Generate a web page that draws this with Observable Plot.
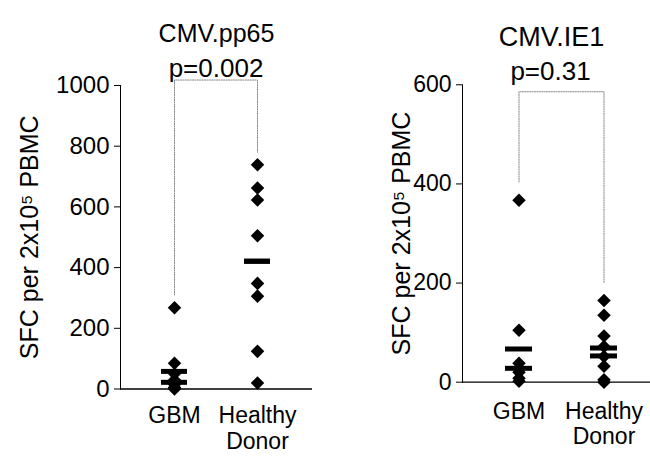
<!DOCTYPE html>
<html>
<head>
<meta charset="utf-8">
<script src="https://cdn.jsdelivr.net/npm/d3@7"></script>
<script src="https://cdn.jsdelivr.net/npm/@observablehq/plot@0.6"></script>
<style>
  html, body { margin: 0; padding: 0; background: #fff; }
  #wrap { position: relative; width: 650px; height: 468px; overflow: hidden; }
  .panel { position: absolute; top: 0; }
</style>
</head>
<body>
<div id="wrap">
  <div id="left" class="panel" style="left:0px"></div>
  <div id="right" class="panel" style="left:325px"></div>
</div>
<script>
// ---- data ----
const groups = ["GBM", "Healthy Donor"];
const yLabel = "SFC per 2x10\u2075 PBMC";

const pp65Title = "CMV.pp65";
const pp65P = "p=0.002";
const pp65Ticks = [0, 200, 400, 600, 800, 1000];
const pp65GBM = [268, 85, 50, 30, 15, 5, 0];
const pp65Healthy = [739, 662, 623, 505, 348, 306, 124, 20];
const pp65Mean = [58, 421];
const pp65Median = [22, 421];
const pp65Bracket = [310, 1018, 1018, 780]; // GBM low, top, top, Healthy low

const ie1Title = "CMV.IE1";
const ie1P = "p=0.31";
const ie1Ticks = [0, 200, 400, 600];
const ie1GBM = [367, 105, 38, 28, 20, 8, 2];
const ie1Healthy = [165, 135, 93, 72, 52, 32, 5, 0];
const ie1Mean = [67, 69];
const ie1Median = [28, 53];
const ie1Bracket = [404, 586, 586, 200];

const FONT = "'Liberation Sans', Arial, sans-serif";

function panel(opts) {
  const pts = [
    ...opts.gbm.map(v => ({g: groups[0], v})),
    ...opts.healthy.map(v => ({g: groups[1], v}))
  ];
  const summaries = [
    ...opts.mean.map((v, i) => ({g: groups[i], v})),
    ...opts.median.map((v, i) => ({g: groups[i], v}))
  ];
  const bracket = [
    {g: groups[0], v: opts.bracket[0]},
    {g: groups[0], v: opts.bracket[1]},
    {g: groups[1], v: opts.bracket[2]},
    {g: groups[1], v: opts.bracket[3]}
  ];
  const [c0, c1] = opts.centers;
  const step = c1 - c0, bw = opts.bw;
  const pi = 1 - bw / step;
  const r0 = c0 - bw / 2, r1 = r0 + step * (2 - pi);
  const svg = Plot.plot({
    width: 325,
    height: 468,
    marginLeft: opts.marginLeft,
    marginRight: opts.marginRight,
    marginTop: opts.marginTop,
    marginBottom: opts.marginBottom,
    style: {fontFamily: FONT, fontSize: opts.tickFont + "px", color: "#000", background: "#fff", overflow: "visible"},
    x: {type: "band", domain: groups, range: [r0, r1], paddingInner: pi, paddingOuter: 0, align: 0,
        tickSize: 0, tickPadding: opts.xPad,
        tickFormat: d => d === "Healthy Donor" ? "Healthy\nDonor" : d, label: null},
    y: {domain: opts.yDomain, ticks: opts.ticks, tickFormat: d3.format("d"), tickSize: 6, tickPadding: 5, line: true,
        label: yLabel, labelAnchor: "center", labelOffset: opts.labelOffset, labelArrow: "none"},
    marks: [
      Plot.ruleY([0], {stroke: "#000", strokeWidth: 1.3}),
      Plot.line(bracket, {x: "g", y: "v", stroke: "#888", strokeWidth: 1, strokeDasharray: "1.2,1.2"}),
      Plot.text([opts.p], {x: () => groups[0], y: () => opts.bracket[1], dx: step / 2 + opts.pdx, dy: opts.pdy, fontSize: opts.pFont, textAnchor: "middle"}),
      Plot.dot(pts, {x: "g", y: "v", symbol: "square", r: 5.4, rotate: 45, fill: "#000", stroke: "none"}),
      Plot.tickY(summaries, {x: "g", y: "v", stroke: "#000", strokeWidth: 5}),
      Plot.text([opts.title], {frameAnchor: "top", dx: opts.tdx, dy: opts.tdy, fontSize: opts.titleFont})
    ]
  });
  // font sizes of axis parts
  svg.querySelectorAll("[aria-label='x-axis tick label'] text, [aria-label='x-axis'] text").forEach(t => {
    t.setAttribute("font-size", opts.xFont);
    t.querySelectorAll("tspan").forEach((s, i) => { if (i > 0) s.setAttribute("dy", "1.1em"); });
  });
  svg.querySelectorAll("[aria-label='y-axis label'] text, [aria-label='y-axis label']").forEach(t => t.setAttribute("font-size", opts.labelFont));
  return svg;
}

document.getElementById("left").appendChild(panel({
  gbm: pp65GBM, healthy: pp65Healthy, mean: pp65Mean, median: pp65Median, bracket: pp65Bracket,
  p: pp65P, title: pp65Title, ticks: pp65Ticks, yDomain: [0, 1000],
  marginLeft: 120, marginRight: 13, marginTop: 85, marginBottom: 79.5,
  centers: [174, 257], bw: 26, labelOffset: 100, pdx: 0, pdy: -11, tdx: 0, tdy: -61,
  tickFont: 24, xFont: 23, labelFont: 25, pFont: 26, titleFont: 25, xPad: 18
}));

document.getElementById("right").appendChild(panel({
  gbm: ie1GBM, healthy: ie1Healthy, mean: ie1Mean, median: ie1Median, bracket: ie1Bracket,
  p: ie1P, title: ie1Title, ticks: ie1Ticks, yDomain: [0, 600],
  marginLeft: 137, marginRight: 0, marginTop: 84.3, marginBottom: 86.3,
  centers: [193.3, 278.3], bw: 27, labelOffset: 70, pdx: -11, pdy: -20, tdx: -5, tdy: -58,
  tickFont: 23, xFont: 23, labelFont: 25, pFont: 26, titleFont: 27, xPad: 20
}));
</script>
</body>
</html>
